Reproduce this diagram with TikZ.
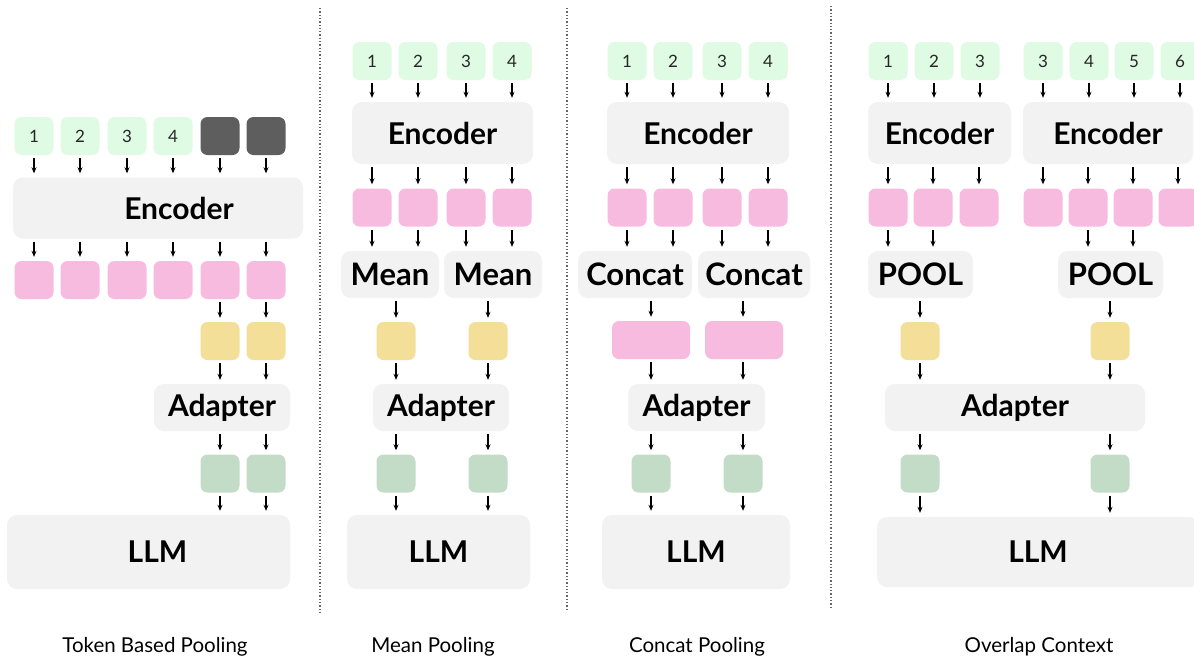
\documentclass[tikz,border=0pt]{standalone}
\usepackage{fontspec}
\setmainfont{Lato}
\usetikzlibrary{arrows.meta}
\definecolor{ctok}{HTML}{DFFBE3}
\definecolor{cmask}{HTML}{5E5E5E}
\definecolor{cemb}{HTML}{F8BBE0}
\definecolor{cpool}{HTML}{F3DF98}
\definecolor{cproj}{HTML}{C3DCC8}
\definecolor{cblk}{HTML}{F2F2F2}
\tikzset{
  cell/.style={rounded corners=7pt, inner sep=0pt, minimum width=39pt, minimum height=38pt},
  ntok/.style={cell, fill=ctok, text=black!85, font=\fontsize{17}{17}\selectfont},
  nmask/.style={cell, fill=cmask},
  nemb/.style={cell, fill=cemb},
  npool/.style={cell, fill=cpool},
  nproj/.style={cell, fill=cproj},
  nblk/.style={rounded corners=10pt, inner sep=0pt, fill=cblk,
               font=\fontsize{30}{30}\selectfont\bfseries},
  nop/.style={nblk, minimum height=47pt, font=\fontsize{31}{31}\selectfont\bfseries},
  ncap/.style={font=\fontsize{20.5}{20.5}\selectfont},
  flow/.style={-{Stealth[length=6pt,width=5pt]}, line width=1.1pt,
               shorten <=3pt, shorten >=4pt},
  sep/.style={black!60, line width=1.3pt, dotted},
}
\begin{document}
\begin{tikzpicture}[x=1pt, y=-1pt]
  \clip (0,0) rectangle (1194,662);
  \fill[white] (0,0) rectangle (1194,662);
  % separators
  \draw[sep] (320,8) -- (320,612);
  \draw[sep] (567,8) -- (567,610);
  \draw[sep] (831,6) -- (831,608);

  % token based pooling
  \node[ntok] (t1a) at (34,136) {1}; \node[ntok] (t1b) at (80,136) {2};
  \node[ntok] (t1c) at (127,136) {3}; \node[ntok] (t1d) at (173,136) {4};
  \node[nmask] (t1e) at (220,136) {}; \node[nmask] (t1f) at (266,136) {};
  \node[nblk, minimum width=290pt, minimum height=61pt] (enc1) at (158,208) {\hspace*{42pt}Encoder};
  \node[nemb] (e1a) at (34,280) {}; \node[nemb] (e1b) at (80,280) {};
  \node[nemb] (e1c) at (127,280) {}; \node[nemb] (e1d) at (173,280) {};
  \node[nemb] (e1e) at (220,280) {}; \node[nemb] (e1f) at (266,280) {};
  \node[npool] (p1a) at (220,341) {}; \node[npool] (p1b) at (266,341) {};
  \node[nblk, minimum width=136pt, minimum height=47pt] (ad1) at (222,407.5) {Adapter};
  \node[nproj] (g1a) at (220,473.5) {}; \node[nproj] (g1b) at (266,473.5) {};
  \node[nblk, minimum width=283pt, minimum height=74pt] (llm1) at (148.5,552) {\hspace*{18pt}LLM};
  \node[ncap] (cap1) at (155,647) {Token Based Pooling};
  \draw[flow] (t1a) -- (t1a |- enc1.north); \draw[flow] (t1b) -- (t1b |- enc1.north);
  \draw[flow] (t1c) -- (t1c |- enc1.north); \draw[flow] (t1d) -- (t1d |- enc1.north);
  \draw[flow] (t1e) -- (t1e |- enc1.north); \draw[flow] (t1f) -- (t1f |- enc1.north);
  \draw[flow] (enc1.south -| e1a) -- (e1a); \draw[flow] (enc1.south -| e1b) -- (e1b);
  \draw[flow] (enc1.south -| e1c) -- (e1c); \draw[flow] (enc1.south -| e1d) -- (e1d);
  \draw[flow] (enc1.south -| e1e) -- (e1e); \draw[flow] (enc1.south -| e1f) -- (e1f);
  \draw[flow] (e1e) -- (p1a); \draw[flow] (e1f) -- (p1b);
  \draw[flow] (p1a) -- (p1a |- ad1.north); \draw[flow] (p1b) -- (p1b |- ad1.north);
  \draw[flow] (ad1.south -| g1a) -- (g1a); \draw[flow] (ad1.south -| g1b) -- (g1b);
  \draw[flow] (g1a) -- (g1a |- llm1.north); \draw[flow] (g1b) -- (g1b |- llm1.north);

  % mean pooling
  \node[ntok] (t2a) at (372,61) {1}; \node[ntok] (t2b) at (418,61) {2};
  \node[ntok] (t2c) at (466,61) {3}; \node[ntok] (t2d) at (512,61) {4};
  \node[nblk, minimum width=181pt, minimum height=62pt] (enc2) at (442.5,133) {Encoder};
  \node[nemb] (e2a) at (372,207.5) {}; \node[nemb] (e2b) at (418,207.5) {};
  \node[nemb] (e2c) at (466,207.5) {}; \node[nemb] (e2d) at (512,207.5) {};
  \node[nop, minimum width=98pt] (mean2a) at (390,274.5) {Mean};
  \node[nop, minimum width=98pt] (mean2b) at (493,274.5) {Mean};
  \node[npool] (p2a) at (396,341) {}; \node[npool] (p2b) at (488,341) {};
  \node[nblk, minimum width=136pt, minimum height=47pt] (ad2) at (441,407.5) {Adapter};
  \node[nproj] (g2a) at (396,473.5) {}; \node[nproj] (g2b) at (488,473.5) {};
  \node[nblk, minimum width=183pt, minimum height=74pt] (llm2) at (438.5,552) {LLM};
  \node[ncap] (cap2) at (433,647) {Mean Pooling};
  \draw[flow] (t2a) -- (t2a |- enc2.north); \draw[flow] (t2b) -- (t2b |- enc2.north);
  \draw[flow] (t2c) -- (t2c |- enc2.north); \draw[flow] (t2d) -- (t2d |- enc2.north);
  \draw[flow] (enc2.south -| e2a) -- (e2a); \draw[flow] (enc2.south -| e2b) -- (e2b);
  \draw[flow] (enc2.south -| e2c) -- (e2c); \draw[flow] (enc2.south -| e2d) -- (e2d);
  \draw[flow] (e2a) -- (e2a |- mean2a.north); \draw[flow] (e2b) -- (e2b |- mean2a.north);
  \draw[flow] (e2c) -- (e2c |- mean2b.north); \draw[flow] (e2d) -- (e2d |- mean2b.north);
  \draw[flow] (mean2a.south -| p2a) -- (p2a); \draw[flow] (mean2b.south -| p2b) -- (p2b);
  \draw[flow] (p2a) -- (p2a |- ad2.north); \draw[flow] (p2b) -- (p2b |- ad2.north);
  \draw[flow] (ad2.south -| g2a) -- (g2a); \draw[flow] (ad2.south -| g2b) -- (g2b);
  \draw[flow] (g2a) -- (g2a |- llm2.north); \draw[flow] (g2b) -- (g2b |- llm2.north);

  % concat pooling
  \node[ntok] (t3a) at (627,61) {1}; \node[ntok] (t3b) at (673,61) {2};
  \node[ntok] (t3c) at (722,61) {3}; \node[ntok] (t3d) at (768,61) {4};
  \node[nblk, minimum width=182pt, minimum height=62pt] (enc3) at (698,133) {Encoder};
  \node[nemb] (e3a) at (627,207.5) {}; \node[nemb] (e3b) at (673,207.5) {};
  \node[nemb] (e3c) at (722,207.5) {}; \node[nemb] (e3d) at (768,207.5) {};
  \node[nop, minimum width=114pt] (cat3a) at (635,274.5) {Concat};
  \node[nop, minimum width=112pt] (cat3b) at (754,274.5) {Concat};
  \node[nemb, minimum width=78pt] (w3a) at (651,340) {};
  \node[nemb, minimum width=78pt] (w3b) at (744,340) {};
  \node[nblk, minimum width=137pt, minimum height=47pt] (ad3) at (696.5,407.5) {Adapter};
  \node[nproj] (g3a) at (651,473.5) {}; \node[nproj] (g3b) at (743,473.5) {};
  \node[nblk, minimum width=188pt, minimum height=74pt] (llm3) at (696,552) {LLM};
  \node[ncap] (cap3) at (697,647) {Concat Pooling};
  \draw[flow] (t3a) -- (t3a |- enc3.north); \draw[flow] (t3b) -- (t3b |- enc3.north);
  \draw[flow] (t3c) -- (t3c |- enc3.north); \draw[flow] (t3d) -- (t3d |- enc3.north);
  \draw[flow] (enc3.south -| e3a) -- (e3a); \draw[flow] (enc3.south -| e3b) -- (e3b);
  \draw[flow] (enc3.south -| e3c) -- (e3c); \draw[flow] (enc3.south -| e3d) -- (e3d);
  \draw[flow] (e3a) -- (e3a |- cat3a.north); \draw[flow] (e3b) -- (e3b |- cat3a.north);
  \draw[flow] (e3c) -- (e3c |- cat3b.north); \draw[flow] (e3d) -- (e3d |- cat3b.north);
  \draw[flow] (cat3a.south -| w3a) -- (w3a); \draw[flow] (cat3b.south -| g3b) -- (w3b.north -| g3b);
  \draw[flow] (w3a) -- (w3a |- ad3.north); \draw[flow] (w3b.south -| g3b) -- (g3b |- ad3.north);
  \draw[flow] (ad3.south -| g3a) -- (g3a); \draw[flow] (ad3.south -| g3b) -- (g3b);
  \draw[flow] (g3a) -- (g3a |- llm3.north); \draw[flow] (g3b) -- (g3b |- llm3.north);

  % overlap context
  \node[ntok] (t4a) at (888,61) {1}; \node[ntok] (t4b) at (934,61) {2};
  \node[ntok] (t4c) at (980,61) {3};
  \node[ntok] (t4d) at (1043,61) {3}; \node[ntok] (t4e) at (1089,61) {4};
  \node[ntok] (t4f) at (1134,61) {5}; \node[ntok] (t4g) at (1180,61) {6};
  \node[nblk, minimum width=143pt, minimum height=62pt] (enc4a) at (939.5,133) {Encoder};
  \node[nblk, minimum width=170pt, minimum height=62pt] (enc4b) at (1108,133) {Encoder};
  \node[nemb] (e4a) at (888,207.5) {}; \node[nemb] (e4b) at (933,207.5) {};
  \node[nemb] (e4c) at (979,207.5) {};
  \node[nemb] (e4d) at (1043,207.5) {}; \node[nemb] (e4e) at (1088,207.5) {};
  \node[nemb] (e4f) at (1133,207.5) {}; \node[nemb] (e4g) at (1178,207.5) {};
  \node[nop, minimum width=105pt] (pool4a) at (920.5,274.5) {POOL};
  \node[nop, minimum width=105pt] (pool4b) at (1110.5,274.5) {POOL};
  \node[npool] (p4a) at (920,341) {}; \node[npool] (p4b) at (1110,341) {};
  \node[nblk, minimum width=260pt, minimum height=47pt] (ad4) at (1015,407.5) {Adapter};
  \node[nproj] (g4a) at (920,473.5) {}; \node[nproj] (g4b) at (1110,473.5) {};
  \node[nblk, minimum width=322pt, minimum height=70pt] (llm4) at (1038,552) {LLM};
  \node[ncap] (cap4) at (1039,647) {Overlap Context};
  \draw[flow] (t4a) -- (t4a |- enc4a.north); \draw[flow] (t4b) -- (t4b |- enc4a.north);
  \draw[flow] (t4c) -- (t4c |- enc4a.north);
  \draw[flow] (t4d) -- (t4d |- enc4b.north); \draw[flow] (t4e) -- (t4e |- enc4b.north);
  \draw[flow] (t4f) -- (t4f |- enc4b.north); \draw[flow] (t4g) -- (t4g |- enc4b.north);
  \draw[flow] (enc4a.south -| e4a) -- (e4a); \draw[flow] (enc4a.south -| e4b) -- (e4b);
  \draw[flow] (enc4a.south -| e4c) -- (e4c);
  \draw[flow] (enc4b.south -| e4d) -- (e4d); \draw[flow] (enc4b.south -| e4e) -- (e4e);
  \draw[flow] (enc4b.south -| e4f) -- (e4f); \draw[flow] (enc4b.south -| e4g) -- (e4g);
  \draw[flow] (e4a) -- (e4a |- pool4a.north); \draw[flow] (e4b) -- (e4b |- pool4a.north);
  \draw[flow] (e4e) -- (e4e |- pool4b.north); \draw[flow] (e4f) -- (e4f |- pool4b.north);
  \draw[flow] (pool4a.south -| p4a) -- (p4a); \draw[flow] (pool4b.south -| p4b) -- (p4b);
  \draw[flow] (p4a) -- (p4a |- ad4.north); \draw[flow] (p4b) -- (p4b |- ad4.north);
  \draw[flow] (ad4.south -| g4a) -- (g4a); \draw[flow] (ad4.south -| g4b) -- (g4b);
  \draw[flow] (g4a) -- (g4a |- llm4.north); \draw[flow] (g4b) -- (g4b |- llm4.north);
\end{tikzpicture}
\end{document}
